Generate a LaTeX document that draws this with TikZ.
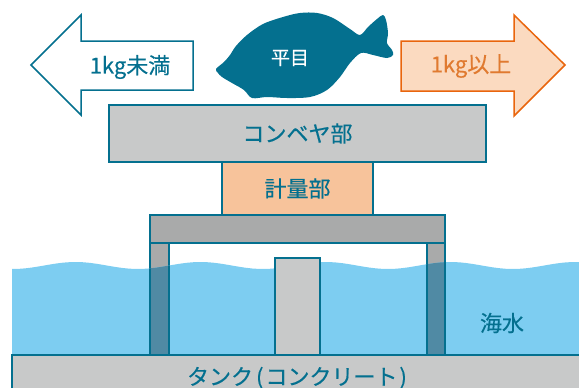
\documentclass[tikz,border=0pt]{standalone}
\usepackage{fontspec}
\setmainfont{Noto Sans CJK JP}[FakeBold=0.35]
\usetikzlibrary{positioning}

\definecolor{deep}{HTML}{04708F}
\definecolor{concrete}{HTML}{C8C9C9}
\definecolor{steel}{HTML}{A9AAAA}
\definecolor{peach}{HTML}{F7C39B}
\definecolor{palepeach}{HTML}{FBDAC0}
\definecolor{rust}{HTML}{E9650D}
\definecolor{rusttext}{HTML}{E07A30}
\definecolor{sea}{HTML}{7DCDF1}
\definecolor{wetleg}{HTML}{508AA4}

\begin{document}
\begin{tikzpicture}[x=1pt,y=-1pt,line width=1.5pt,
 part/.style={draw=deep,fill=concrete,text=deep,inner sep=0pt,outer sep=0pt,font=\fontsize{22}{22}\selectfont},
 leg/.style={draw=deep,fill=steel,inner sep=0pt,outer sep=0pt,minimum height=112},
 lbl/.style={text=deep,font=\fontsize{22}{22}\selectfont}]
\useasboundingbox (0,0) rectangle (579,388);
% machine stack
\node[part,minimum width=377,minimum height=57] (conveyor) at (297.5,133.5) {コンベヤ部};
\node[part,fill=peach,minimum width=151,minimum height=53] (weigh) [below=0pt of conveyor] {計量部};
\node[part,fill=steel,minimum width=295,minimum height=28] (frametop) [below=0pt of weigh] {};
\node[leg,minimum width=19,anchor=north west] (legl) at (frametop.south west) {};
\node[leg,minimum width=18,anchor=north east] (legr) at (frametop.south east) {};
% sea water, legs darker below the surface (one wave every 125pt)
\def\waves{(12,355) -- plot[domain=12:590,samples=90] (\x,{265.5+3.5*cos(2.88*(\x-13))}) -- (590,355) -- cycle}
\fill[sea] \waves;
\begin{scope}
 \clip \waves;
 \path[draw=deep,fill=wetleg] (legl.north west) rectangle (legl.south east);
 \path[draw=deep,fill=wetleg] (legr.north west) rectangle (legr.south east);
\end{scope}
\node[part,minimum width=45,minimum height=97,anchor=south] (post) at (297.5,355) {};
\node[part,minimum width=590,minimum height=45,anchor=north west] (tank) at (12,355) {};
\node[lbl] (tanklabel) at (297,378) {タンク\kern3pt(\kern2ptコンクリート\kern2pt)};
\node[lbl] (seawater) at (502,323) {海水};
% sorting arrows
\draw[deep,fill=white] (193,41) -- (81,41) -- (81,15) -- (31,65) -- (81,115) -- (81,90) -- (193,90) -- cycle;
\node[lbl] (light) at (130,67) {1kg未満};
\draw[rust,fill=palepeach] (401,41) -- (514,41) -- (514,15) -- (565,65) -- (514,116) -- (514,91) -- (401,91) -- cycle;
\node[lbl,text=rusttext] (heavy) at (471,66) {1kg以上};
% the flatfish
\fill[deep] plot[smooth cycle,tension=.55] coordinates {
 (224,62) (230,55) (236,46) (247,35) (263,24) (283,17) (300,13) (317,13) (333,18) (350,29)
 (360,35) (368,27) (377,19) (383,15) (386,20) (388,33) (387,43) (392,50) (393,55) (387,58)
 (373,55) (361,53) (350,63) (340,77) (327,90) (310,97) (287,98) (267,97) (252,98) (244,90)
 (232,83) (222,77) (218,73) (216,69)};
\node[text=white,font=\fontsize{19}{19}\selectfont] (fishname) at (290,58) {平目};
\end{tikzpicture}
\end{document}
